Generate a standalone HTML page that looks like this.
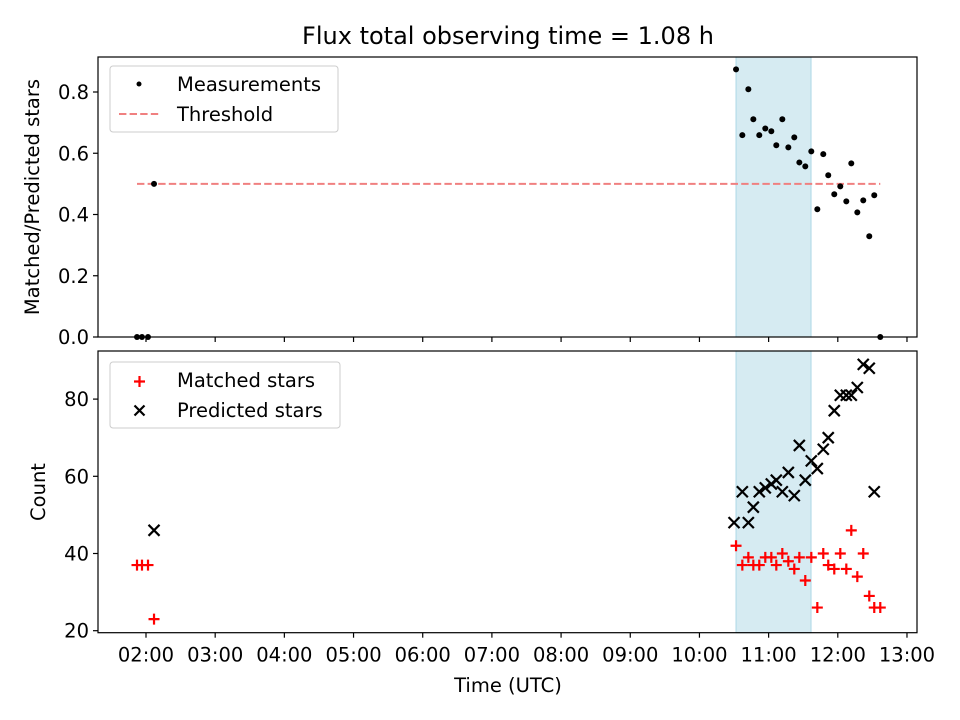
<!DOCTYPE html>
<html><head><meta charset="utf-8"><style>
body{margin:0;background:#fff;}
svg{display:block;font-family:"DejaVu Sans","Liberation Sans",sans-serif;}
</style></head><body>
<svg id="chart" width="960" height="720" viewBox="0 0 960 720" xmlns="http://www.w3.org/2000/svg">
<text x="508" y="44" font-size="24" text-anchor="middle">Flux total observing time = 1.08 h</text>
<g id="topPanel"></g>
<g id="botPanel"></g>
</svg>
<script>
const ratioTimes=[1.870,1.942,2.029,2.116,10.529,10.620,10.707,10.779,10.865,10.952,11.039,11.111,11.198,11.285,11.371,11.444,11.530,11.617,11.704,11.790,11.862,11.949,12.036,12.123,12.195,12.282,12.368,12.455,12.527,12.614];
const ratioValues=[0,0,0,0.5,0.874,0.659,0.809,0.711,0.659,0.681,0.672,0.626,0.711,0.619,0.652,0.570,0.557,0.606,0.417,0.597,0.528,0.466,0.492,0.443,0.567,0.407,0.446,0.329,0.463,0];
const matchedTimes=[1.870,1.942,2.029,2.116,10.529,10.620,10.707,10.779,10.865,10.952,11.039,11.111,11.198,11.285,11.371,11.444,11.530,11.617,11.704,11.790,11.862,11.949,12.036,12.123,12.195,12.282,12.368,12.455,12.527,12.614];
const matchedValues=[37,37,37,23,42,37,39,37,37,39,39,37,40,38,36,39,33,39,26,40,37,36,40,36,46,34,40,29,26,26];
const predictedTimes=[2.116,10.500,10.620,10.707,10.779,10.865,10.952,11.039,11.111,11.198,11.285,11.371,11.444,11.530,11.617,11.704,11.790,11.862,11.949,12.036,12.123,12.195,12.282,12.368,12.455,12.527];
const predictedValues=[46,48,56,48,52,56,57,58,59,56,61,55,68,59,64,62,67,70,77,81,81,81,83,89,88,56];
const threshold=[1.870,12.614,0.5];
const span=[10.529,11.613];
const xTickHours=[2,3,4,5,6,7,8,9,10,11,12,13];
const xTickLabels=["02:00","03:00","04:00","05:00","06:00","07:00","08:00","09:00","10:00","11:00","12:00","13:00"];
const topTicks=[0,0.2,0.4,0.6,0.8];
const topTickLabels=["0.0","0.2","0.4","0.6","0.8"];
const botTicks=[20,40,60,80];
const botTickLabels=["20","40","60","80"];

const NS="http://www.w3.org/2000/svg";
const L=98,R=917,FS=19.5;
const X=h=>146+(h-2)*69.18;
const TT=57,TB=337, Yt=v=>337-v*306.25;
const BT=351,BB=632.7, Yb=v=>630.7-(v-20)*3.86;
function mk(p,tag,a){const e=document.createElementNS(NS,tag);for(const k in a)e.setAttribute(k,a[k]);p.appendChild(e);return e;}
const topG=document.getElementById('topPanel'),botG=document.getElementById('botPanel');

let s=mk(topG,'rect',{x:X(span[0]),y:TT,width:X(span[1])-X(span[0]),height:TB-TT,fill:'#add8e6','fill-opacity':0.5,stroke:'#add8e6'});


s=mk(botG,'rect',{x:X(span[0]),y:BT,width:X(span[1])-X(span[0]),height:BB-BT,fill:'#add8e6','fill-opacity':0.5,stroke:'#add8e6'});



let th=mk(topG,'line',{x1:X(threshold[0]),x2:X(threshold[1]),y1:Yt(threshold[2]),y2:Yt(threshold[2]),stroke:'#f08080','stroke-width':2,'stroke-dasharray':'7.4,3.2'});



ratioTimes.forEach((t,i)=>{const c=mk(topG,'circle',{cx:X(t),cy:Yt(ratioValues[i]),r:3,fill:'#000'});

});

predictedTimes.forEach((t,i)=>{const x=X(t),y=Yb(predictedValues[i]),d=5.5;
const p=mk(botG,'path',{d:`M${x-d},${y-d}L${x+d},${y+d}M${x-d},${y+d}L${x+d},${y-d}`,stroke:'#000','stroke-width':2.2});

});
matchedTimes.forEach((t,i)=>{const x=X(t),y=Yb(matchedValues[i]),d=5.5;
const p=mk(botG,'path',{d:`M${x-d},${y}L${x+d},${y}M${x},${y-d}L${x},${y+d}`,stroke:'#f00','stroke-width':2.2});

});

let f=mk(topG,'rect',{x:L,y:TT,width:R-L,height:TB-TT,fill:'none',stroke:'#000','stroke-width':1.2});


f=mk(botG,'rect',{x:L,y:BT,width:R-L,height:BB-BT,fill:'none',stroke:'#000','stroke-width':1.2});



xTickHours.forEach((h,i)=>{const x=X(h);
let t=mk(topG,'line',{x1:x,x2:x,y1:TB,y2:TB+5,stroke:'#000','stroke-width':1.2});


t=mk(botG,'line',{x1:x,x2:x,y1:BB,y2:BB+5,stroke:'#000','stroke-width':1.2});


const tx=mk(botG,'text',{x:x,y:BB+29,'font-size':FS,'text-anchor':'middle'});tx.textContent=xTickLabels[i];

});
topTicks.forEach((v,i)=>{const y=Yt(v);
const t=mk(topG,'line',{x1:L-5,x2:L,y1:y,y2:y,stroke:'#000','stroke-width':1.2});


const tx=mk(topG,'text',{x:L-9,y:y+7,'font-size':FS,'text-anchor':'end'});tx.textContent=topTickLabels[i];

});
botTicks.forEach((v,i)=>{const y=Yb(v);
const t=mk(botG,'line',{x1:L-5,x2:L,y1:y,y2:y,stroke:'#000','stroke-width':1.2});


const tx=mk(botG,'text',{x:L-9,y:y+7,'font-size':FS,'text-anchor':'end'});tx.textContent=botTickLabels[i];

});
</script>
<svg style="position:absolute;left:0;top:0" width="960" height="720" xmlns="http://www.w3.org/2000/svg" font-family="DejaVu Sans, Liberation Sans, sans-serif">
<text transform="translate(39,197) rotate(-90)" font-size="19.5" text-anchor="middle">Matched/Predicted stars</text>
<text transform="translate(45,492) rotate(-90)" font-size="19.5" text-anchor="middle">Count</text>
<text x="508" y="692" font-size="19.5" text-anchor="middle">Time (UTC)</text>
<g>
<rect x="110" y="66" width="228" height="66" rx="3" fill="#fff" fill-opacity="0.8" stroke="#ccc"/>
<circle cx="139" cy="84" r="2.5" fill="#000"/>
<text x="177" y="91" font-size="19.5">Measurements</text>
<line x1="119" x2="159" y1="114" y2="114" stroke="#f08080" stroke-width="2" stroke-dasharray="7.4,3.2"/>
<text x="177" y="121" font-size="19.5">Threshold</text>
</g>
<g>
<rect x="110" y="362" width="230" height="66" rx="3" fill="#fff" fill-opacity="0.8" stroke="#ccc"/>
<path d="M134,381.5h11M139.5,376v11" stroke="#f00" stroke-width="2.2"/>
<text x="177" y="387" font-size="19.5">Matched stars</text>
<path d="M134.5,405.5l10,10M134.5,415.5l10,-10" stroke="#000" stroke-width="2.2"/>
<text x="177" y="417" font-size="19.5">Predicted stars</text>
</g>
</svg>
</body></html>
